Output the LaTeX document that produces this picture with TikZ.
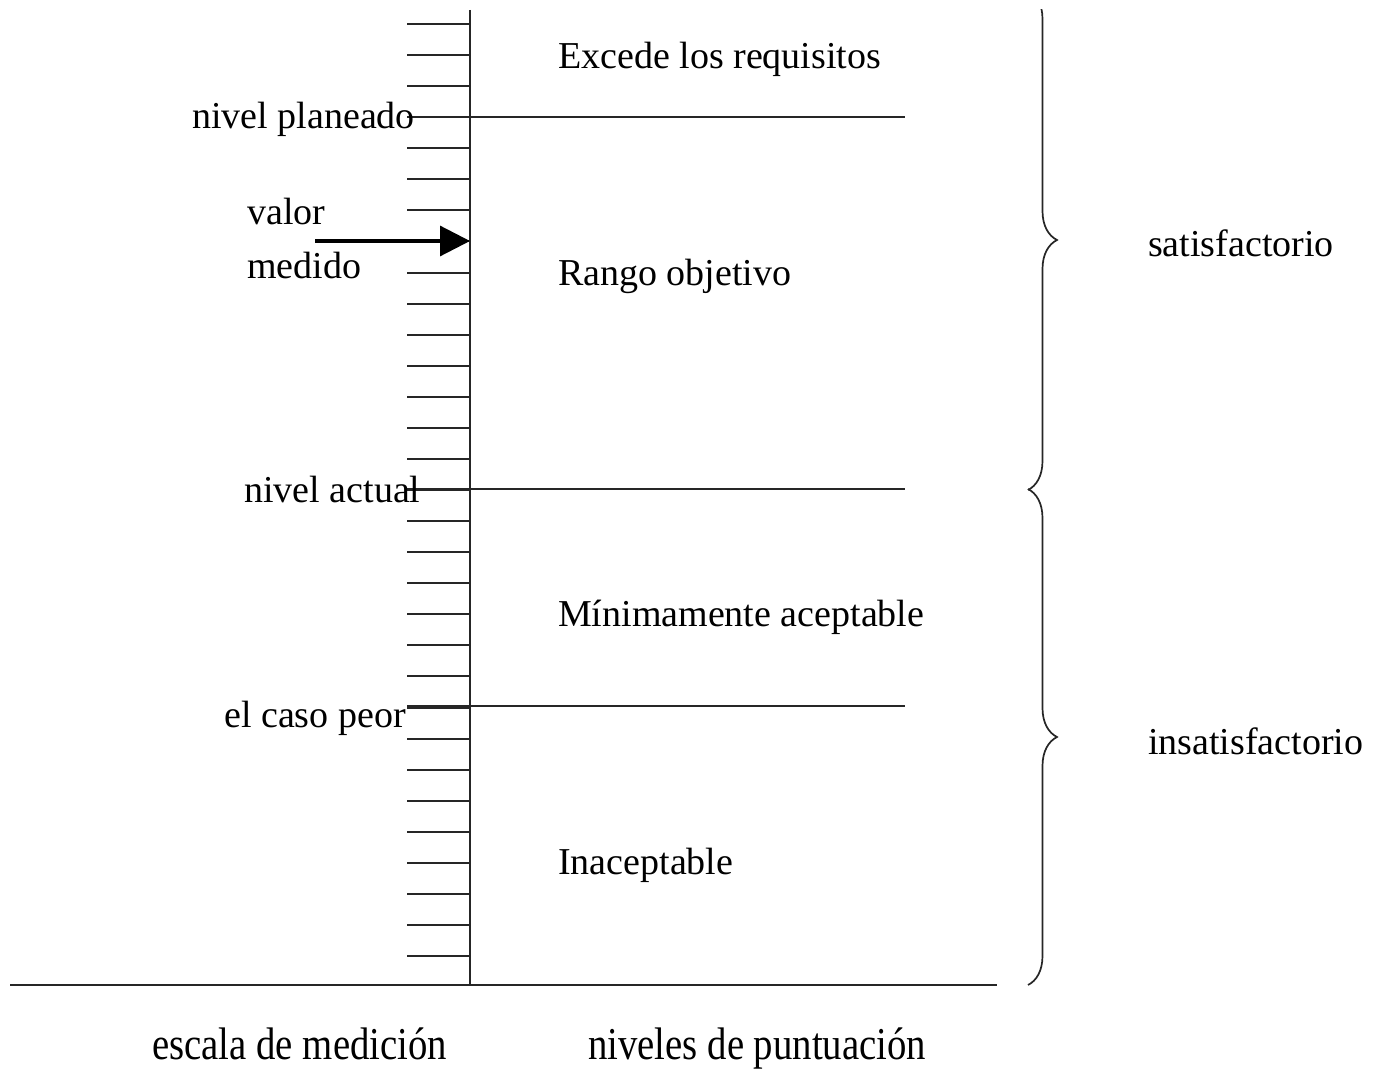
\documentclass[tikz,border=0pt]{standalone}
\usepackage{fontspec}
\setmainfont{Liberation Serif}
\usetikzlibrary{arrows.meta,decorations.pathreplacing}
\begin{document}
\begin{tikzpicture}[x=1pt,y=-1pt,
  axisline/.style={line width=2pt,draw=black!85},
  tickline/.style={line width=2pt,draw=black!85},
  levelline/.style={line width=1.6pt,draw=black!85},
  label/.style={inner sep=0pt,anchor=base west,font=\fontsize{38}{44}\selectfont},
  footlabel/.style={label,yscale=1.2,xscale=1.02},
  bracestyle/.style={line width=1.7pt,draw=black!85,
    decorate,decoration={brace,amplitude=29pt}}]
\useasboundingbox (0,0) rectangle (1377,1070);
\clip (0,0) rectangle (1377,1070);

% main axes
\coordinate (axtop) at (469.5,10);
\coordinate (axbot) at (469.5,985);
\coordinate (baseL) at (10,985);
\coordinate (baseR) at (997,985);
\draw[axisline] (axtop) -- (axbot);
\draw[axisline] (baseL) -- (baseR);

% measurement scale ticks
\foreach \i in {0,...,30}{
  \pgfmathsetmacro{\ty}{24+31.07*\i}
  \draw[tickline] (407,\ty) -- (469.5,\ty);
}

% level boundaries
\coordinate (planL) at (407,117);   \coordinate (planR) at (905,117);
\coordinate (actL) at (407,489);    \coordinate (actR) at (905,489);
\coordinate (worstL) at (407,706);  \coordinate (worstR) at (905,706);
\draw[levelline] (planL) -- (planR);
\draw[levelline] (actL) -- (actR);
\draw[levelline] (worstL) -- (worstR);

% scale labels
\node[label] (planeado) at (192,129) {nivel planeado};
\node[label] (valor) at (247,225) {valor};
\node[label] (medido) at (247,278) {medido};
\node[label] (actual) at (244,502) {nivel actual};
\node[label] (peor) at (224,727) {el caso peor};

% measured value arrow
\coordinate (arrstart) at (315,241);
\coordinate (arrend) at (470,241);
\draw[line width=3.2pt,-{Triangle[length=30pt,width=30pt]}] (arrstart) -- (arrend);

% band labels
\node[label] (excede) at (558,69) {Excede los requisitos};
\node[label] (rango) at (558,285) {Rango objetivo};
\node[label] (minimo) at (558,626) {Mínimamente aceptable};
\node[label] (inacept) at (558,874) {Inaceptable};

% grouping braces (the upper one is cut off at its top end)
\coordinate (b1top) at (1028,-10);
\coordinate (b1bot) at (1028,490);
\coordinate (b2top) at (1028,489);
\coordinate (b2bot) at (1028,985);
\begin{scope}
  \clip (1000,10) rectangle (1100,1070);
  \draw[bracestyle] (b1top) -- (b1bot);
\end{scope}
\draw[bracestyle] (b2top) -- (b2bot);
\node[label] (satis) at (1148,256) {satisfactorio};
\node[label] (insatis) at (1148,754) {insatisfactorio};

% axis captions
\node[footlabel] (escala) at (152,1059) {escala de medición};
\node[footlabel] (niveles) at (588,1059) {niveles de puntuación};
\end{tikzpicture}
\end{document}
